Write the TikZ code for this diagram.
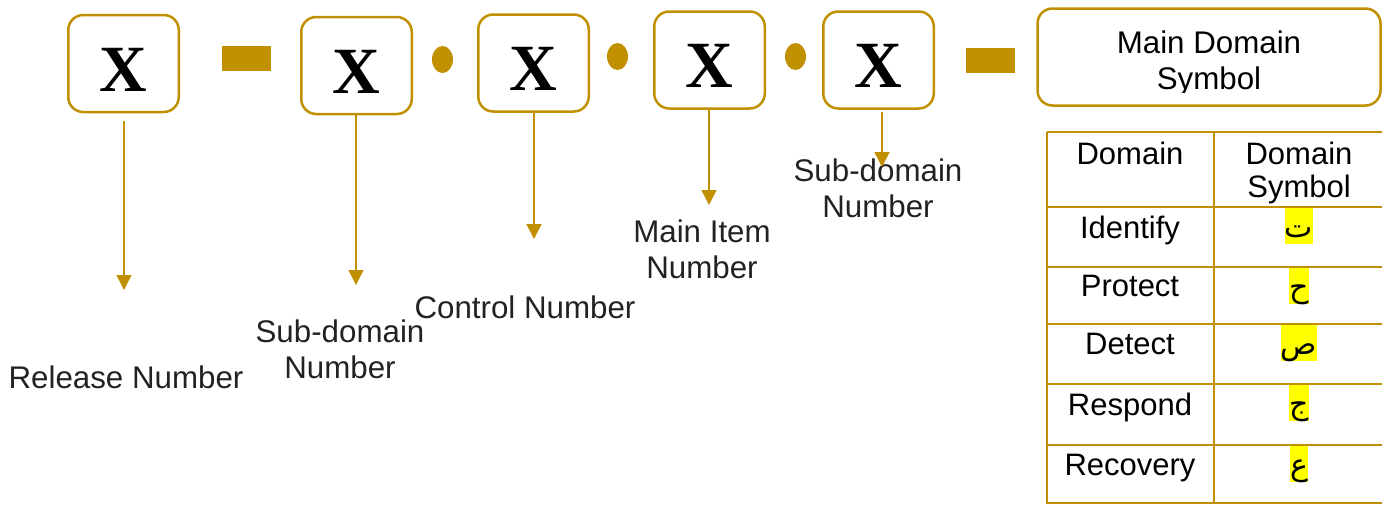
\documentclass[tikz,border=0pt]{standalone}
\usepackage{fontspec}
\setmainfont{Liberation Sans}
\newfontfamily\xfont{Liberation Serif}
\newfontfamily\arabicfont[Script=Arabic]{DejaVu Sans}
\usetikzlibrary{arrows.meta,shapes.geometric}
\TeXXeTstate=1
\definecolor{gold}{RGB}{192,144,0}
\definecolor{labelgray}{RGB}{34,34,34}
\definecolor{hilite}{RGB}{255,255,0}

\begin{document}
\begin{tikzpicture}[x=1pt,y=-1pt,
  xbox/.style={draw=gold, line width=2.5pt, rounded corners=15pt,
    minimum width=110.5pt, minimum height=97pt, inner sep=0pt,
    font=\xfont\bfseries\fontsize{66}{66}\selectfont,
    text height=55pt, text depth=0pt},
  namebox/.style={draw=gold, line width=2.5pt, rounded corners=15pt,
    minimum width=343pt, minimum height=97pt, inner sep=0pt},
  bar/.style={fill=gold, draw=none, inner sep=0pt, minimum width=49pt, minimum height=25pt},
  dotmark/.style={ellipse, fill=gold, draw=none, inner sep=0pt, minimum width=21pt, minimum height=27pt},
  lbl/.style={font=\fontsize{31.3}{36}\selectfont, text=labelgray, align=center, inner sep=0pt, anchor=base},
  tbl/.style={font=\fontsize{31}{33}\selectfont, align=center, inner sep=0pt, anchor=base},
  sym/.style={font=\arabicfont\fontsize{30}{30}\selectfont, fill=hilite, inner xsep=0pt, inner ysep=0pt,
    text height=29pt, text depth=7pt, anchor=base},
  arr/.style={draw=gold, line width=1.5pt, -{Triangle[width=15pt,length=15pt]}},
  grid/.style={draw=gold, line width=2pt}]
\useasboundingbox (0,0) rectangle (1382,504);

% code boxes and separators
\node[xbox] (b1) at (123.5,63.5) {X};
\node[bar] (d1) at (246.5,58.5) {};
\node[xbox] (b2) at (356.5,65.5) {X};
\node[dotmark] (p1) at (442.5,59.5) {};
\node[xbox] (b3) at (533.5,63) {X};
\node[dotmark] (p2) at (617.5,56.5) {};
\node[xbox] (b4) at (709.5,60) {X};
\node[dotmark] (p3) at (795.5,56.5) {};
\node[xbox] (b5) at (878.5,60) {X};
\node[bar] (d2) at (990.5,60.5) {};

% main domain symbol box (text clipped at the lower edge)
\node[namebox] (m) at (1209,57) {};
\begin{scope}
  \clip (1036,7) rectangle (1382,92);
  \node[lbl, text=black] (mt) at (1209,89) {Main Domain\\Symbol};
\end{scope}

% labels (anchored at the baseline of their last line)
\node[lbl] (l1) at (126,388) {Release Number};
\node[lbl] (l2) at (340,378) {Sub-domain\\Number};
\node[lbl] (l3) at (525,318) {Control Number};
\node[lbl] (l4) at (702,278) {Main Item\\Number};
\node[lbl] (l5) at (878,217) {Sub-domain\\Number};

% arrow tips
\coordinate (t1) at (124,290);
\coordinate (t2) at (356,285);
\coordinate (t3) at (534,239);
\coordinate (t4) at (709,205);
\coordinate (t5) at (882,167);

\draw[arr] ([yshift=-8pt]b1.south -| t1) -- (t1);
\draw[arr] (b2.south -| t2) -- (t2);
\draw[arr] (b3.south -| t3) -- (t3);
\draw[arr] (b4.south -| t4) -- (t4);
\draw[arr] ([yshift=-2pt]b5.south -| t5) -- (t5);

% domain table
\foreach \yy in {132,207,267,324,384,445,502.5}
  \draw[grid] (1047,\yy) -- (1386,\yy);
\draw[grid] (1047,132) -- (1047,503.5);
\draw[grid] (1214,132) -- (1214,503.5);

\node[tbl] (h1) at (1130,164) {Domain};
\node[tbl] (h2) at (1299,197) {Domain\\Symbol};
\node[tbl] (r1) at (1130,238) {Identify};
\node[tbl] (r2) at (1130,296) {Protect};
\node[tbl] (r3) at (1130,354) {Detect};
\node[tbl] (r4) at (1130,415) {Respond};
\node[tbl] (r5) at (1130,475) {Recovery};

\node[sym] (s1) at (1299,237) {\beginR ت\endR};
\node[sym] (s2) at (1299,297) {\beginR ح\endR};
\node[sym] (s3) at (1299,354) {\beginR ص\endR};
\node[sym] (s4) at (1299,414) {\beginR ج\endR};
\node[sym] (s5) at (1299,475) {\beginR ع\endR};
\end{tikzpicture}
\end{document}
